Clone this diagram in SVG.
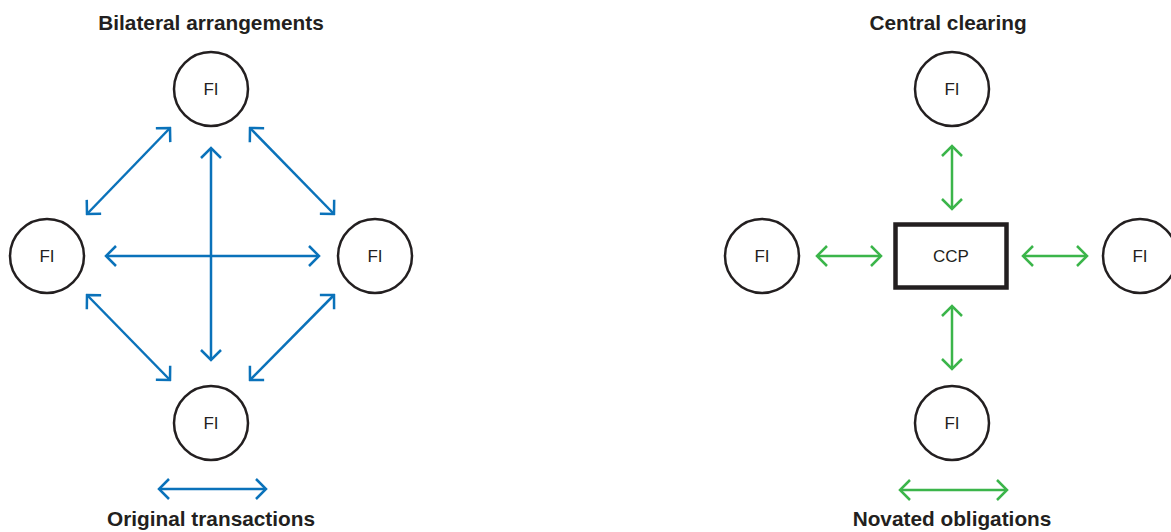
<svg xmlns="http://www.w3.org/2000/svg" width="1171" height="532" viewBox="0 0 1171 532">
<defs>
<style>
.title{font-family:"Liberation Sans",Arial,sans-serif;font-size:20.8px;font-weight:bold;fill:#231f20;text-anchor:middle}
.lbl{font-family:"Liberation Sans",Arial,sans-serif;font-size:17px;fill:#231f20;text-anchor:middle}
.fi{fill:#fff;stroke:#231f20;stroke-width:2.5}
.b{stroke:#0a72ba;stroke-width:2.5;fill:none;marker-start:url(#ab);marker-end:url(#ab)}
.g{stroke:#3bb54a;stroke-width:2.5;fill:none;marker-start:url(#ag);marker-end:url(#ag)}
</style>
<marker id="ab" viewBox="-12 -12 14 24" markerWidth="14" markerHeight="24" refX="0" refY="0" markerUnits="userSpaceOnUse" orient="auto-start-reverse">
<path d="M-10,-10 L0,0 L-10,10" fill="none" stroke="#0a72ba" stroke-width="2.5"/>
</marker>
<marker id="ag" viewBox="-12 -12 14 24" markerWidth="14" markerHeight="24" refX="0" refY="0" markerUnits="userSpaceOnUse" orient="auto-start-reverse">
<path d="M-10,-10 L0,0 L-10,10" fill="none" stroke="#3bb54a" stroke-width="2.5"/>
</marker>
</defs>
<rect width="1171" height="532" fill="#fff"/>
<text class="title" x="211" y="30">Bilateral arrangements</text>
<text class="title" x="948" y="30">Central clearing</text>
<text class="title" x="211" y="526">Original transactions</text>
<text class="title" x="952" y="526">Novated obligations</text>
<g id="connectors">
<line class="b" x1="106" y1="256" x2="319" y2="256"/>
<line class="b" x1="211" y1="148" x2="211" y2="360"/>
<line class="b" x1="87" y1="214" x2="170" y2="128"/>
<line class="b" x1="250" y1="128" x2="334" y2="214"/>
<line class="b" x1="87" y1="295" x2="170" y2="380"/>
<line class="b" x1="250" y1="380" x2="334" y2="295"/>
<line class="b" x1="159" y1="489" x2="266" y2="489"/>
<line class="g" x1="952" y1="146" x2="952" y2="209"/>
<line class="g" x1="952" y1="306" x2="952" y2="369"/>
<line class="g" x1="817" y1="256" x2="881" y2="256"/>
<line class="g" x1="1023" y1="256" x2="1087" y2="256"/>
<line class="g" x1="900" y1="490" x2="1007" y2="490"/>
</g>
<g id="fi-top-l"><circle class="fi" cx="211" cy="89" r="37"/><text class="lbl" x="211" y="95">FI</text></g>
<g id="fi-left-l"><circle class="fi" cx="47" cy="256" r="37"/><text class="lbl" x="47" y="262">FI</text></g>
<g id="fi-right-l"><circle class="fi" cx="375" cy="256" r="37"/><text class="lbl" x="375" y="262">FI</text></g>
<g id="fi-bottom-l"><circle class="fi" cx="211" cy="423" r="37"/><text class="lbl" x="211" y="429">FI</text></g>
<g id="fi-top-r"><circle class="fi" cx="952" cy="89" r="37"/><text class="lbl" x="952" y="95">FI</text></g>
<g id="fi-left-r"><circle class="fi" cx="762" cy="256" r="37"/><text class="lbl" x="762" y="262">FI</text></g>
<g id="fi-right-r"><circle class="fi" cx="1140" cy="256" r="37"/><text class="lbl" x="1140" y="262">FI</text></g>
<g id="fi-bottom-r"><circle class="fi" cx="952" cy="423" r="37"/><text class="lbl" x="952" y="429">FI</text></g>
<g id="ccp"><rect x="895.5" y="224.5" width="111" height="63" fill="#fff" stroke="#231f20" stroke-width="4.5"/><text class="lbl" x="951" y="262">CCP</text></g>
</svg>
